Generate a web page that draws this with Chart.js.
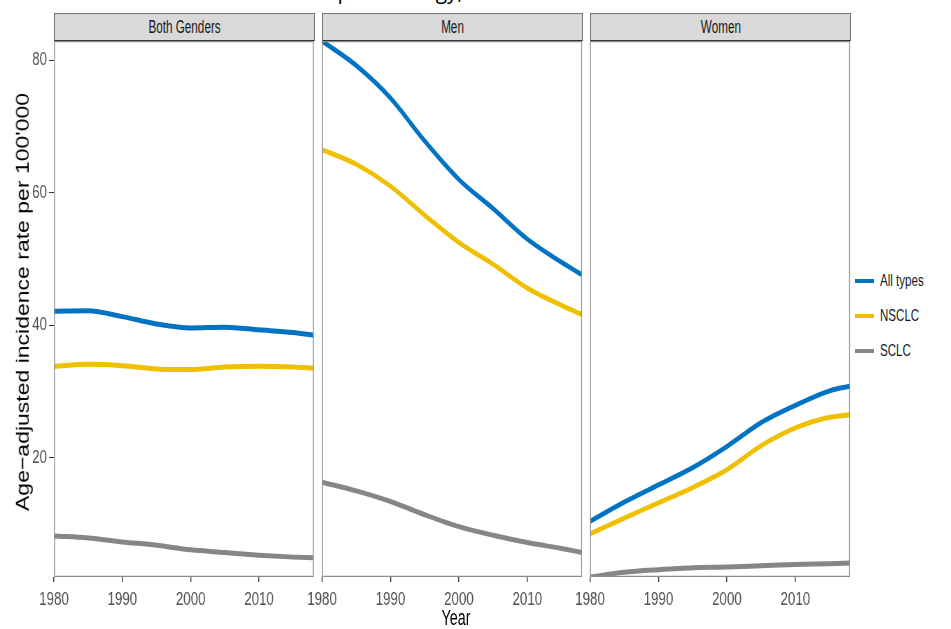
<!DOCTYPE html>
<html>
<head>
<meta charset="utf-8">
<script src="https://cdn.jsdelivr.net/npm/chart.js@4.4.1/dist/chart.umd.min.js"></script>
<style>
  html, body { margin:0; padding:0; background:#fff; }
  #root { position:relative; width:951px; height:629px; overflow:hidden; background:#fff; font-family:"Liberation Sans",Arial,sans-serif; }
  canvas { position:absolute; transform-origin:0 0; }
  .strip { position:absolute; top:13px; height:28px; background:#d9d9d9; border:1px solid #777; border-bottom:1px solid #333;
           box-sizing:border-box; text-align:center; font-size:18px; line-height:26px; color:#1a1a1a; }
  .sq { display:inline-block; transform:scaleX(0.65); transform-origin:50% 50%; white-space:nowrap; }
  #ytitle { position:absolute; left:23px; top:302px; transform:translate(-50%,-50%) scaleX(0.83) rotate(-90deg); white-space:nowrap;
            font-size:23px; color:#000; }
  #xtitle { position:absolute; left:456px; top:618px; transform:translate(-50%,-50%) scaleX(0.65); font-size:22px; color:#000; white-space:nowrap; }
  #title { position:absolute; left:163px; width:300px; top:-19px; text-align:right; font-family:"Open Sans",sans-serif; font-size:21px; line-height:21px; color:#000; }
  .leg { position:absolute; left:855px; height:20px; line-height:20px; white-space:nowrap; }
  .leg i { position:absolute; left:0; top:8px; width:19px; height:4px; }
  .leg span { position:absolute; left:25px; top:0; font-size:17px; color:#1a1a1a; transform:scaleX(0.68); transform-origin:0 50%; }
</style>
</head>
<body>
<div id="root">
  <div id="title">Epidemiology,</div>
  <div class="strip" style="left:54px;width:261px;"><span class="sq">Both Genders</span></div>
  <div class="strip" style="left:322px;width:261px;"><span class="sq">Men</span></div>
  <div class="strip" style="left:590px;width:261px;"><span class="sq">Women</span></div>
  <canvas id="c0"></canvas>
  <canvas id="c1"></canvas>
  <canvas id="c2"></canvas>
  <div id="ytitle">Age−adjusted incidence rate per 100'000</div>
  <div id="xtitle">Year</div>
  <div id="legend"></div>
</div>
<script>
// ---- data ----
const years = [1980, 1985, 1990, 1995, 2000, 2005, 2010, 2015, 2018];
const panels = ["Both Genders", "Men", "Women"];
const seriesNames = ["All types", "NSCLC", "SCLC"];
const seriesColors = ["#0073C2", "#EFC000", "#868686"];

const bothAll   = [42.1, 42.2, 41.3, 40.2, 39.6, 39.7, 39.3, 38.9, 38.5];
const bothNSCLC = [33.8, 34.1, 33.9, 33.4, 33.3, 33.7, 33.8, 33.7, 33.5];
const bothSCLC  = [8.2, 7.9, 7.3, 6.8, 6.1, 5.7, 5.3, 5.0, 4.9];

const menAll    = [82.9, 79.2, 74.3, 67.8, 62.0, 57.6, 53.0, 49.5, 47.6];
const menNSCLC  = [66.5, 64.3, 61.0, 56.6, 52.5, 49.2, 45.6, 43.0, 41.6];
const menSCLC   = [16.3, 15.0, 13.4, 11.4, 9.6, 8.3, 7.2, 6.3, 5.7];

const womenAll   = [10.4, 13.3, 15.9, 18.5, 21.7, 25.3, 27.9, 30.1, 30.8];
const womenNSCLC = [8.5, 10.9, 13.2, 15.5, 18.2, 21.8, 24.5, 26.1, 26.5];
const womenSCLC  = [2.0, 2.7, 3.1, 3.4, 3.5, 3.7, 3.9, 4.0, 4.1];

const xTicks = [1980, 1990, 2000, 2010];
const yTicks = [20, 40, 60, 80];
const panelData = [
  [bothAll, bothNSCLC, bothSCLC],
  [menAll, menNSCLC, menSCLC],
  [womenAll, womenNSCLC, womenSCLC]
];

// ---- legend ----
const legendTops = [271, 306, 341];
const legEl = document.getElementById('legend');
seriesNames.forEach((n, i) => {
  const d = document.createElement('div');
  d.className = 'leg';
  d.style.top = legendTops[i] + 'px';
  d.innerHTML = '<i style="background:' + seriesColors[i] + '"></i><span>' + n + '</span>';
  legEl.appendChild(d);
});

// horizontal squeeze applied to the canvases (condensed look of the original)
const S = 0.7;
const FONT = '"Liberation Sans", Arial, sans-serif';
const PLOT_TOP = 41, PLOT_H = 536, X_AXIS_H = 40;
// real-pixel geometry of each panel canvas: [canvasLeft, leftSpace, plotWidth, rightSpace]
const geom = [[0, 54, 260, 2], [302, 20, 260, 2], [570, 20, 260, 2]];

const boxPlugin = {
  id: 'box',
  afterDatasetsDraw(chart) {
    const a = chart.chartArea, ctx = chart.ctx;
    ctx.save();
    ctx.strokeStyle = '#8c8c8c';
    ctx.lineWidth = 1.3;
    ctx.strokeRect(a.left + 0.7, a.top + 0.6, a.right - a.left - 1.4, a.bottom - a.top - 1.2);
    ctx.restore();
  }
};

panelData.forEach((series, p) => {
  const showY = p === 0;
  const [cl, ls, pw, rs] = geom[p];
  const cv = document.getElementById('c' + p);
  cv.width = Math.round((ls + pw + rs) / S);
  cv.height = PLOT_H + X_AXIS_H;
  cv.style.left = cl + 'px';
  cv.style.top = PLOT_TOP + 'px';
  cv.style.transform = 'scaleX(' + S + ')';
  new Chart(cv, {
    type: 'line',
    data: {
      datasets: series.map((vals, i) => ({
        label: seriesNames[i],
        data: years.map((y, k) => ({ x: y, y: vals[k] })),
        borderColor: seriesColors[i],
        backgroundColor: seriesColors[i],
        borderWidth: 5,
        pointRadius: 0,
        cubicInterpolationMode: 'monotone',
        clip: 0,
        order: 3 - i
      }))
    },
    options: {
      responsive: false,
      animation: false,
      devicePixelRatio: 1,
      layout: { padding: { left: showY ? 0 : ls / S, right: rs / S, top: 0, bottom: 0 } },
      plugins: { legend: { display: false }, tooltip: { enabled: false } },
      scales: {
        x: {
          type: 'linear', min: 1980, max: 2018,
          afterBuildTicks: s => { s.ticks = xTicks.map(v => ({ value: v })); },
          afterFit: s => { s.height = X_AXIS_H; s.paddingLeft = 0; s.paddingRight = 0; },
          grid: { display: true, drawOnChartArea: false, drawTicks: true, tickLength: 5, color: '#333', lineWidth: 1.4 },
          border: { display: false },
          ticks: { color: '#4d4d4d', font: { family: FONT, size: 19 }, padding: 6, maxRotation: 0, autoSkip: false,
                   callback: v => String(v) }
        },
        y: {
          type: 'linear', min: 2, max: 82.9, display: showY,
          afterBuildTicks: s => { s.ticks = yTicks.map(v => ({ value: v })); },
          afterFit: s => { s.width = showY ? ls / S : 0; s.paddingTop = 0; s.paddingBottom = 0; },
          grid: { display: true, drawOnChartArea: false, drawTicks: true, tickLength: 5 / S, color: '#333', lineWidth: 1 },
          border: { display: false },
          ticks: { color: '#4d4d4d', font: { family: FONT, size: 19 }, padding: 2 / S, callback: v => String(v) }
        }
      }
    },
    plugins: [boxPlugin]
  });
});
</script>
</body>
</html>
